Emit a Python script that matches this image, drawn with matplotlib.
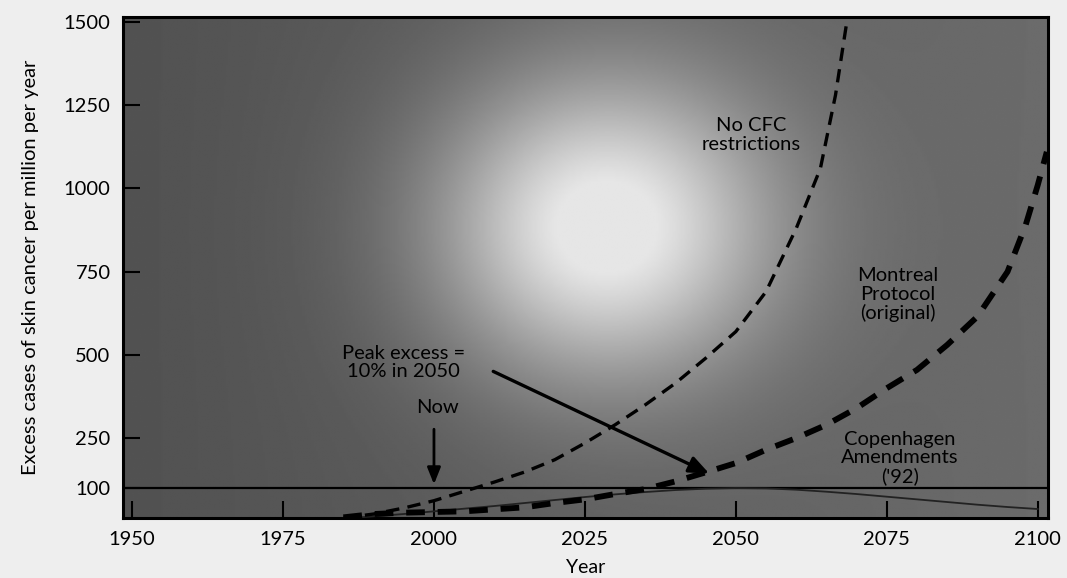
import numpy as np
import matplotlib
matplotlib.use("Agg")
import matplotlib.pyplot as plt

# scenario curves (excess cases per million per year)
years_nocfc = [1985, 1990, 1995, 2000, 2005, 2010, 2015, 2020, 2025, 2030, 2035,
               2040, 2045, 2050, 2055, 2060, 2064, 2066.5, 2068.5]
nocfc = [10, 22, 40, 62, 90, 118, 148, 185, 235, 290, 350,
         415, 490, 570, 690, 880, 1060, 1280, 1515]

years_montreal = [1985, 1990, 1995, 2000, 2005, 2010, 2015, 2020, 2025, 2030, 2035,
                  2040, 2045, 2050, 2055, 2060, 2065, 2070, 2075, 2080, 2085,
                  2090, 2095, 2098, 2100, 2101.5]
montreal = [12, 22, 26, 28, 30, 36, 42, 55, 66, 82, 97,
            120, 147, 175, 215, 250, 290, 340, 400, 455, 530,
            615, 750, 890, 1010, 1110]

years_copen = [1985, 1990, 1995, 2000, 2005, 2010, 2015, 2020, 2025, 2030, 2035,
               2040, 2045, 2050, 2055, 2060, 2065, 2070, 2075, 2080, 2085,
               2090, 2095, 2100]
copen = [8, 15, 22, 30, 38, 46, 55, 64, 73, 81, 88,
         94, 98, 100, 99, 95, 89, 82, 74, 66, 58,
         50, 43, 37]

x_ticks = [1950, 1975, 2000, 2025, 2050, 2075, 2100]
y_ticks = [100, 250, 500, 750, 1000, 1250, 1500]

plt.rcParams['font.family'] = ['Lato', 'DejaVu Sans']

fig = plt.figure(figsize=(10.67, 5.78), dpi=100, facecolor='#eeeeee')
ax = fig.add_axes([0.1153, 0.1038, 0.8669, 0.8668])

x0, x1 = 1948.5, 2101.7
y0, y1 = 10, 1515
ax.set_xlim(x0, x1)
ax.set_ylim(y0, y1)

# shaded background with a bright glow
gx, gy = np.meshgrid(np.linspace(0, 1, 400), np.linspace(0, 1, 300))
base = 0.32 + 0.10 * gx
glow = 0.58 * np.exp(-(((gx - 0.52) / 0.18) ** 2 + ((gy - 0.58) / 0.30) ** 2))
shade = np.clip(base + glow, 0, 0.9)
ax.imshow(shade, cmap='gray', vmin=0, vmax=1, origin='lower', aspect='auto',
          extent=[x0, x1, y0, y1], zorder=0, interpolation='bilinear')

ax.axhline(100, color='black', lw=1.6, zorder=2)

ax.plot(years_copen, copen, color='#222222', lw=1.3, zorder=3)
ax.plot(years_nocfc, nocfc, color='black', lw=2.4, ls=(0, (4, 2.5)), zorder=3)
ax.plot(years_montreal, montreal, color='black', lw=4.2, ls=(0, (3.2, 2.2)), zorder=3)

txt = dict(fontsize=14.5, color='black', ha='center', va='center', linespacing=1.1, zorder=5)
ax.text(2052.6, 1160, "No CFC\nrestrictions", **txt)
ax.text(2076.8, 680, "Montreal\nProtocol\n(original)", **txt)
ax.text(2077.2, 190, "Copenhagen\nAmendments\n('92)", **txt)
ax.text(1994.9, 478, "Peak excess =\n10% in 2050", **txt)
ax.text(2000.5, 342, "Now", **txt)

ax.annotate("", xy=(2000, 103), xytext=(2000, 285),
            arrowprops=dict(arrowstyle='-|>,head_length=1.0,head_width=0.4',
                            color='black', lw=2), zorder=5)
ax.annotate("", xy=(2046, 140), xytext=(2009.4, 454),
            arrowprops=dict(arrowstyle='-|>,head_length=1.2,head_width=0.5',
                            color='black', lw=2.4), zorder=5)

ax.set_xticks(x_ticks)
ax.set_yticks(y_ticks)
ax.set_xticklabels([str(v) for v in x_ticks])
ax.set_yticklabels([str(v) for v in y_ticks])
ax.tick_params(direction='in', length=12, width=1.5, labelsize=14.5, pad=9)
for s in ax.spines.values():
    s.set_linewidth(2.2)

ax.set_xlabel("Year", fontsize=14, labelpad=8)
ax.set_ylabel("Excess cases of skin cancer per million per year", fontsize=14.5, labelpad=18)

fig.savefig("out.png", dpi=100, facecolor=fig.get_facecolor())
